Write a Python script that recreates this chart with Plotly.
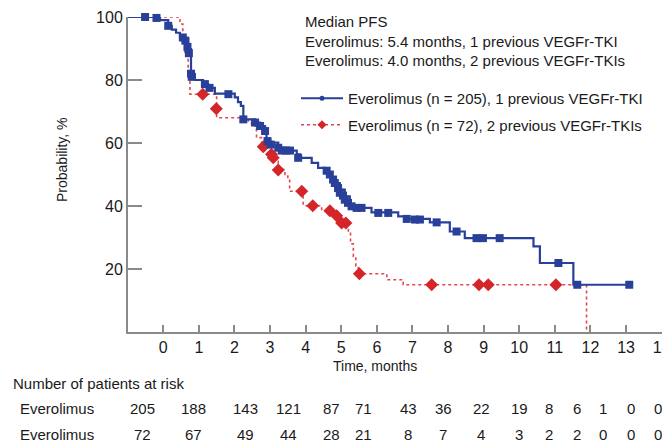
import plotly.graph_objects as go

# ---------------- data ----------------
# Kaplan-Meier step curve, 1 previous VEGFr-TKI (n = 205)
blue_t = [-0.99, -0.09, 0.14, 0.24, 0.36, 0.47, 0.61, 0.70, 0.78, 0.89, 1.12, 1.26, 1.45,
          2.01, 2.10, 2.18, 2.25, 2.58, 2.72, 2.86, 2.90, 3.00, 3.23, 3.42, 3.75, 3.84,
          4.17, 4.35, 4.54, 4.63, 4.73, 4.82, 4.96, 5.10, 5.24, 5.43, 5.85, 6.60, 6.84,
          7.49, 8.05, 8.47, 10.40, 10.58, 11.52, 13.09]
blue_s = [100, 99, 97.2, 96, 95, 94, 93, 89.8, 81.8, 80, 78.7, 77.5, 75.7,
          74.5, 73, 71.8, 67.5, 66.5, 65.4, 63.8, 61.1, 60.1, 58.5, 57.6, 56.4, 55.3,
          53.7, 52.1, 51.6, 50, 48.9, 47.3, 45.2, 43.1, 40.1, 39.4, 38, 36.7, 35.9,
          34.8, 31.9, 29.8, 27.2, 21.9, 15, 15]
# censored observations, 1 previous VEGFr-TKI
blue_ct = [-0.51, -0.19, 0.14, 0.55, 0.62, 0.68, 0.72, 0.78, 0.80, 1.17, 1.30, 1.83,
           2.25, 2.58, 2.72, 2.86, 2.93, 3.02, 3.23, 3.33, 3.45, 3.56, 3.79,
           4.59, 4.68, 4.77, 4.82, 4.91, 4.96, 5.05, 5.10, 5.19, 5.29, 5.43, 5.57,
           6.04, 6.32, 6.84, 7.07, 7.21, 7.68, 8.24, 8.80, 8.98, 9.45, 11.10, 11.63, 13.09]
blue_cs = [100, 99.7, 97.2, 93.5, 92.5, 90.5, 88.5, 82, 81, 78.7, 77.5, 75.5,
           67.5, 66.5, 65.4, 63.8, 60.6, 59.5, 58.5, 57.6, 57.6, 57.6, 55.3,
           51.2, 50, 48.4, 47.3, 45.7, 44.2, 43.3, 42, 41, 39.9, 39.4, 39.4,
           37.8, 37.8, 35.9, 35.7, 35.7, 34.8, 31.9, 29.8, 29.8, 29.8, 21.9, 15, 15]

# Kaplan-Meier step curve, 2 previous VEGFr-TKIs (n = 72)
red_t = [-0.99, 0.47, 0.55, 0.61, 0.70, 0.75, 1.50, 2.39, 2.48, 2.58, 2.62, 2.76,
         3.00, 3.04, 3.14, 3.23, 3.42, 3.50, 3.55, 3.93, 4.45, 4.87, 5.01, 5.20,
         5.26, 5.34, 5.41, 5.48, 6.28, 6.74, 11.89]
red_s = [100, 97.8, 93, 88.2, 81.8, 75.5, 68, 67, 65.9, 64.3, 61.7, 59,
         56.4, 55.3, 54.2, 51.6, 50, 48.5, 44.7, 40.1, 38.5, 36.9, 34.6, 31.8,
         28, 24, 21, 18.5, 16.6, 15, 0]
red_ct = [1.11, 1.49, 2.81, 3.04, 3.09, 3.23, 3.89, 4.20, 4.68, 4.87, 5.01, 5.13,
          5.51, 7.54, 8.87, 9.13, 11.03]
red_cs = [75.5, 70.9, 58.8, 56.4, 55.3, 51.4, 44.7, 40.1, 38.5, 36.9, 34.6, 34.6,
          18.5, 15, 15, 15, 15]

x_ticks = list(range(0, 15))
y_ticks = [20, 40, 60, 80, 100]

series_names = ["Everolimus (n = 205), 1 previous VEGFr-TKI",
                "Everolimus (n = 72), 2 previous VEGFr-TKIs"]
median_lines = ["Median PFS",
                "Everolimus: 5.4 months, 1 previous VEGFr-TKI",
                "Everolimus: 4.0 months, 2 previous VEGFr-TKIs"]

risk_title = "Number of patients at risk"
risk_labels = ["Everolimus", "Everolimus"]
risk_blue = [205, 188, 143, 121, 87, 71, 43, 36, 22, 19, 8, 6, 1, 0, 0]
risk_red = [72, 67, 49, 44, 28, 21, 8, 7, 4, 3, 2, 2, 0, 0, 0]

# ---------------- layout constants ----------------
W, H = 662, 443
ML, MR, MT, MB = 128, 0, 17, 111
PW, PH = W - ML - MR, H - MT - MB
risk_cols_px = [142, 193, 245, 288, 331, 363, 408, 443, 481, 519, 549, 577, 603, 631, 658]
FONT = "Liberation Sans, Arial, sans-serif"
BLUE = "#28409a"
RED_LINE = "#e2474b"
RED_MK = "#d42629"
AXIS = "#8a8a8a"
TXT = "#1a1a1a"


def px_x(px):
    return (px - ML) / PW


def px_y(py):
    return (H - MB - py) / PH


def text_ann(text, cx, cy, size=15, xanchor="center", **kw):
    return dict(text=text, x=px_x(cx), y=px_y(cy), xref="paper", yref="paper",
                xanchor=xanchor, yanchor="middle", showarrow=False,
                font=dict(size=size, color=TXT, family=FONT), **kw)


fig = go.Figure()

# step lines
fig.add_trace(go.Scatter(x=red_t, y=red_s, mode="lines", line_shape="hv",
                         line=dict(color=RED_LINE, width=1.6, dash="dot"),
                         showlegend=False, hoverinfo="skip"))
fig.add_trace(go.Scatter(x=blue_t, y=blue_s, mode="lines", line_shape="hv",
                         line=dict(color=BLUE, width=2.2),
                         showlegend=False, hoverinfo="skip"))
# censor markers
fig.add_trace(go.Scatter(x=red_ct, y=red_cs, mode="markers",
                         marker=dict(symbol="diamond", size=10, color=RED_MK),
                         showlegend=False, cliponaxis=False))
fig.add_trace(go.Scatter(x=blue_ct, y=blue_cs, mode="markers",
                         marker=dict(symbol="square", size=8, color=BLUE),
                         showlegend=False, cliponaxis=False))
# legend entries
fig.add_trace(go.Scatter(x=[None], y=[None], mode="lines+markers", name=series_names[0],
                         line=dict(color=BLUE, width=2),
                         marker=dict(symbol="circle", size=5, color=BLUE),
                         legendgroup="a"))
fig.add_trace(go.Scatter(x=[None], y=[None], mode="lines+markers", name=series_names[1],
                         line=dict(color=RED_LINE, width=1.6, dash="dot"),
                         marker=dict(symbol="diamond", size=7, color=RED_MK),
                         legendgroup="b"))

ann = []
ann.append(text_ann("<br>".join(median_lines), 303, 41, xanchor="left", align="left"))
ann.append(text_ann("Probability, %", 62, 160, size=14, textangle=-90))
ann.append(text_ann("Time, months", 375, 366, size=14))
ann.append(text_ann(risk_title, 11, 383, xanchor="left"))
for lab, row, py in zip(risk_labels, [risk_blue, risk_red], [408, 434]):
    ann.append(text_ann(lab, 18, py, xanchor="left"))
    for v, cx in zip(row, risk_cols_px):
        ann.append(text_ann(str(v), cx, py))

fig.update_layout(
    width=W, height=H,
    margin=dict(l=ML, r=MR, t=MT, b=MB, autoexpand=False),
    paper_bgcolor="white", plot_bgcolor="white",
    font=dict(family=FONT, color=TXT),
    annotations=ann,
    legend=dict(x=px_x(296), y=px_y(82), xanchor="left", yanchor="top",
                traceorder="grouped", tracegroupgap=4, itemwidth=42,
                bgcolor="rgba(0,0,0,0)", font=dict(size=15, color=TXT, family=FONT)),
    xaxis=dict(range=[-0.99, 14.01], tickvals=x_ticks, ticks="inside", ticklen=7,
               tickwidth=1.5, tickcolor=AXIS, showline=True, linecolor=AXIS, linewidth=2,
               showgrid=False, zeroline=False, tickfont=dict(size=16, color=TXT),
               automargin=False, ticklabeloverflow="allow"),
    yaxis=dict(range=[0, 100], tickvals=y_ticks, ticks="inside", ticklen=14,
               tickwidth=1.5, tickcolor=AXIS, showline=True, linecolor=AXIS, linewidth=2,
               showgrid=False, zeroline=False, tickfont=dict(size=16, color=TXT),
               automargin=False),
)

fig.write_html("out.html", config={"displayModeBar": False},
               post_script="document.body.style.margin='0px';")
